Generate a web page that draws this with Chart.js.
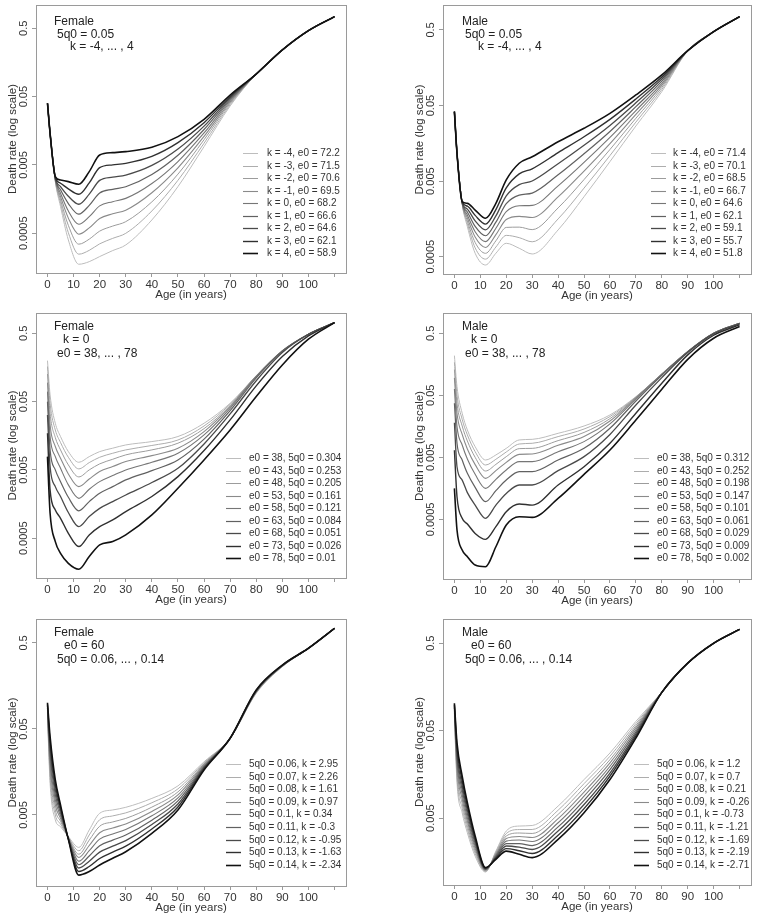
<!DOCTYPE html>
<html>
<head>
<meta charset="utf-8">
<title>Death rate by age, six model life tables</title>
<script src="https://cdn.jsdelivr.net/npm/chart.js@4.4.1/dist/chart.umd.min.js"></script>
<style>
    html, body { margin: 0; padding: 0; background: #fff; }
    #page { position: relative; width: 762px; height: 921px; overflow: hidden; }
    #page canvas { position: absolute; }
</style>
</head>
<body>
<div id="page"></div>
<script>
"use strict";

var ages = [0, 1, 3, 5, 8, 12, 16, 20, 25, 30, 40, 50, 60, 70, 80, 90, 100, 110];
var ageTicks = [0, 10, 20, 30, 40, 50, 60, 70, 80, 90, 100, 110];
var rateTicks = [0.0005, 0.005, 0.05, 0.5];

// Female, 5q0 = 0.05, k = -4 ... 4
var femaleKHeading = ['Female', '5q0 = 0.05', 'k = -4, ... , 4'];
var femaleKLabels = ['k = -4, e0 = 72.2', 'k = -3, e0 = 71.5', 'k = -2, e0 = 70.6', 'k = -1, e0 = 69.5',
    'k = 0, e0 = 68.2', 'k = 1, e0 = 66.6', 'k = 2, e0 = 64.6', 'k = 3, e0 = 62.1', 'k = 4, e0 = 58.9'];
var femaleKRates = [
    [0.04, 0.0145, 0.00285, 0.00123, 0.000399, 0.000176, 0.000192, 0.000228, 0.000279, 0.000337, 0.000783, 0.00241, 0.00927, 0.0365, 0.107, 0.241, 0.462, 0.741],
    [0.04, 0.0145, 0.00291, 0.00138, 0.00051, 0.000247, 0.000281, 0.00035, 0.000421, 0.000499, 0.00106, 0.00298, 0.0104, 0.0382, 0.107, 0.241, 0.462, 0.741],
    [0.04, 0.0145, 0.00297, 0.00154, 0.000652, 0.000346, 0.00041, 0.000537, 0.000637, 0.000739, 0.00144, 0.00367, 0.0117, 0.04, 0.107, 0.241, 0.462, 0.741],
    [0.04, 0.0145, 0.00303, 0.00172, 0.000833, 0.000484, 0.000599, 0.000823, 0.000962, 0.00109, 0.00196, 0.00454, 0.0131, 0.0419, 0.107, 0.241, 0.462, 0.741],
    [0.04, 0.0145, 0.0031, 0.00193, 0.00106, 0.000678, 0.000875, 0.00126, 0.00145, 0.00162, 0.00267, 0.00561, 0.0147, 0.0439, 0.107, 0.241, 0.462, 0.741],
    [0.04, 0.0145, 0.00316, 0.00216, 0.00136, 0.00095, 0.00128, 0.00194, 0.0022, 0.0024, 0.00362, 0.00692, 0.0165, 0.0459, 0.107, 0.241, 0.462, 0.741],
    [0.04, 0.0145, 0.00323, 0.00241, 0.00174, 0.00133, 0.00187, 0.00297, 0.00332, 0.00356, 0.00492, 0.00855, 0.0185, 0.0481, 0.107, 0.241, 0.462, 0.741],
    [0.04, 0.0145, 0.0033, 0.0027, 0.00223, 0.00186, 0.00273, 0.00456, 0.00501, 0.00528, 0.00668, 0.0106, 0.0208, 0.0504, 0.107, 0.241, 0.462, 0.741],
    [0.04, 0.0145, 0.00337, 0.00301, 0.00285, 0.00261, 0.00399, 0.007, 0.00757, 0.00783, 0.00906, 0.013, 0.0233, 0.0528, 0.107, 0.241, 0.462, 0.741]
];

// Male, 5q0 = 0.05, k = -4 ... 4
var maleKHeading = ['Male', '5q0 = 0.05', 'k = -4, ... , 4'];
var maleKLabels = ['k = -4, e0 = 71.4', 'k = -3, e0 = 70.1', 'k = -2, e0 = 68.5', 'k = -1, e0 = 66.7',
    'k = 0, e0 = 64.6', 'k = 1, e0 = 62.1', 'k = 2, e0 = 59.1', 'k = 3, e0 = 55.7', 'k = 4, e0 = 51.8'];
var maleKRates = [
    [0.0415, 0.0117, 0.00249, 0.00125, 0.000555, 0.000388, 0.000555, 0.000752, 0.000646, 0.000543, 0.00113, 0.00311, 0.00906, 0.0268, 0.0764, 0.266, 0.475, 0.75],
    [0.0415, 0.0117, 0.00251, 0.00137, 0.000654, 0.000464, 0.000671, 0.000957, 0.000893, 0.000787, 0.00158, 0.00404, 0.0109, 0.0302, 0.0814, 0.266, 0.475, 0.75],
    [0.0415, 0.0117, 0.00253, 0.00149, 0.000771, 0.000554, 0.000811, 0.00122, 0.00123, 0.00114, 0.00221, 0.00524, 0.0131, 0.0339, 0.0867, 0.266, 0.475, 0.75],
    [0.0415, 0.0117, 0.00256, 0.00163, 0.000909, 0.000662, 0.00098, 0.00155, 0.00171, 0.00165, 0.00309, 0.0068, 0.0157, 0.0382, 0.0923, 0.266, 0.475, 0.75],
    [0.0415, 0.0117, 0.00258, 0.00178, 0.00107, 0.000792, 0.00119, 0.00197, 0.00236, 0.00239, 0.00433, 0.00883, 0.0189, 0.0429, 0.0983, 0.266, 0.475, 0.75],
    [0.0415, 0.0117, 0.0026, 0.00195, 0.00126, 0.000946, 0.00143, 0.00251, 0.00326, 0.00347, 0.00606, 0.0115, 0.0227, 0.0483, 0.105, 0.266, 0.475, 0.75],
    [0.0415, 0.0117, 0.00262, 0.00213, 0.00149, 0.00113, 0.00173, 0.0032, 0.0045, 0.00502, 0.00849, 0.0149, 0.0273, 0.0543, 0.112, 0.266, 0.475, 0.75],
    [0.0415, 0.0117, 0.00265, 0.00233, 0.00176, 0.00135, 0.0021, 0.00407, 0.00623, 0.00728, 0.0119, 0.0193, 0.0328, 0.0611, 0.119, 0.266, 0.475, 0.75],
    [0.0415, 0.0117, 0.00267, 0.00254, 0.00207, 0.00161, 0.00254, 0.00518, 0.00861, 0.0105, 0.0166, 0.025, 0.0394, 0.069, 0.127, 0.266, 0.475, 0.75]
];

// Female, k = 0, e0 = 38 ... 78
var femaleE0Heading = ['Female', 'k = 0', 'e0 = 38, ... , 78'];
var femaleE0Labels = ['e0 = 38, 5q0 = 0.304', 'e0 = 43, 5q0 = 0.253', 'e0 = 48, 5q0 = 0.205', 'e0 = 53, 5q0 = 0.161',
    'e0 = 58, 5q0 = 0.121', 'e0 = 63, 5q0 = 0.084', 'e0 = 68, 5q0 = 0.051', 'e0 = 73, 5q0 = 0.026', 'e0 = 78, 5q0 = 0.01'];
var femaleE0Rates = [
    [0.199, 0.0627, 0.0241, 0.0154, 0.00927, 0.00647, 0.00783, 0.00927, 0.0104, 0.0116, 0.013, 0.0154, 0.0241, 0.0473, 0.119, 0.275, 0.483, 0.716],
    [0.163, 0.0473, 0.0192, 0.0126, 0.00766, 0.00518, 0.0064, 0.00766, 0.00877, 0.00982, 0.0114, 0.0137, 0.022, 0.0457, 0.119, 0.275, 0.483, 0.716],
    [0.127, 0.0338, 0.0149, 0.00982, 0.00592, 0.00395, 0.005, 0.00613, 0.00716, 0.0083, 0.00982, 0.0123, 0.0201, 0.0437, 0.119, 0.275, 0.483, 0.716],
    [0.0948, 0.0228, 0.011, 0.00741, 0.00437, 0.00285, 0.00369, 0.00473, 0.0056, 0.00662, 0.0081, 0.0104, 0.0182, 0.0423, 0.1175, 0.275, 0.483, 0.716],
    [0.07, 0.0154, 0.00783, 0.00528, 0.00302, 0.00192, 0.00261, 0.00337, 0.00413, 0.005, 0.00647, 0.00877, 0.0163, 0.0399, 0.116, 0.275, 0.483, 0.716],
    [0.05, 0.00982, 0.005, 0.00337, 0.00199, 0.00126, 0.00172, 0.00228, 0.00285, 0.00357, 0.00489, 0.007, 0.0141, 0.0369, 0.111, 0.275, 0.483, 0.716],
    [0.0319, 0.0056, 0.00285, 0.00204, 0.00119, 0.00074, 0.00104, 0.00137, 0.00172, 0.00215, 0.00327, 0.00528, 0.012, 0.033, 0.101, 0.261, 0.483, 0.716],
    [0.0172, 0.00255, 0.0013, 0.00098, 0.00059, 0.000378, 0.00056, 0.00074, 0.000927, 0.00123, 0.00204, 0.00399, 0.0096, 0.027, 0.0848, 0.228, 0.457, 0.716],
    [0.00783, 0.00116, 0.000447, 0.000301, 0.000215, 0.000176, 0.00027, 0.000399, 0.000447, 0.00056, 0.0011, 0.0027, 0.007, 0.0192, 0.0592, 0.172, 0.409, 0.716]
];

// Male, k = 0, e0 = 38 ... 78
var maleE0Heading = ['Male', 'k = 0', 'e0 = 38, ... , 78'];
var maleE0Labels = ['e0 = 38, 5q0 = 0.312', 'e0 = 43, 5q0 = 0.252', 'e0 = 48, 5q0 = 0.198', 'e0 = 53, 5q0 = 0.147',
    'e0 = 58, 5q0 = 0.101', 'e0 = 63, 5q0 = 0.061', 'e0 = 68, 5q0 = 0.029', 'e0 = 73, 5q0 = 0.009', 'e0 = 78, 5q0 = 0.002'];
var maleE0Rates = [
    [0.218, 0.069, 0.0257, 0.0138, 0.00743, 0.00453, 0.00546, 0.00698, 0.00953, 0.00975, 0.0122, 0.016, 0.0241, 0.0475, 0.11, 0.253, 0.5, 0.724],
    [0.17, 0.0506, 0.0205, 0.0115, 0.00617, 0.00376, 0.00465, 0.0061, 0.0082, 0.00842, 0.0108, 0.0143, 0.0227, 0.0469, 0.11, 0.253, 0.5, 0.724],
    [0.13, 0.0372, 0.016, 0.00917, 0.005, 0.00301, 0.00385, 0.00513, 0.0069, 0.00698, 0.0093, 0.0126, 0.021, 0.0464, 0.11, 0.253, 0.5, 0.724],
    [0.0953, 0.0257, 0.0117, 0.00681, 0.00381, 0.00229, 0.00305, 0.00415, 0.00558, 0.00566, 0.00782, 0.0108, 0.0193, 0.0453, 0.11, 0.253, 0.5, 0.724],
    [0.0632, 0.0156, 0.0079, 0.0047, 0.00266, 0.00158, 0.00221, 0.00313, 0.00426, 0.00426, 0.00617, 0.00896, 0.0173, 0.0437, 0.109, 0.253, 0.5, 0.724],
    [0.0372, 0.00842, 0.00453, 0.00276, 0.00164, 0.000964, 0.00145, 0.00215, 0.00294, 0.00294, 0.00453, 0.00698, 0.0147, 0.0405, 0.105, 0.253, 0.5, 0.724],
    [0.0181, 0.00353, 0.00215, 0.00135, 0.00085, 0.00052, 0.00085, 0.00131, 0.00179, 0.00179, 0.00305, 0.00513, 0.0117, 0.0349, 0.0964, 0.244, 0.488, 0.707],
    [0.00649, 0.00116, 0.00052, 0.000421, 0.000297, 0.000238, 0.000381, 0.000665, 0.000883, 0.00085, 0.00179, 0.00353, 0.00842, 0.0257, 0.0781, 0.224, 0.464, 0.681],
    [0.00158, 0.000337, 0.00016, 0.000125, 0.0000917, 0.0000863, 0.000181, 0.000405, 0.000552, 0.000538, 0.00109, 0.00266, 0.00656, 0.02, 0.0625, 0.19, 0.415, 0.641]
];

// Female, e0 = 60, 5q0 = 0.06 ... 0.14
var female5q0Heading = ['Female', 'e0 = 60', '5q0 = 0.06, ... , 0.14'];
var female5q0Labels = ['5q0 = 0.06, k = 2.95', '5q0 = 0.07, k = 2.26', '5q0 = 0.08, k = 1.61', '5q0 = 0.09, k = 0.97',
    '5q0 = 0.1, k = 0.34', '5q0 = 0.11, k = -0.3', '5q0 = 0.12, k = -0.95', '5q0 = 0.13, k = -1.63', '5q0 = 0.14, k = -2.34'];
var female5q0Rates = [
    [0.0695, 0.0117, 0.00438, 0.00366, 0.0028, 0.0021, 0.00335, 0.00523, 0.00572, 0.00614, 0.0078, 0.0109, 0.0208, 0.039, 0.13, 0.265, 0.434, 0.74],
    [0.0728, 0.0137, 0.005, 0.00393, 0.00277, 0.00192, 0.00293, 0.0044, 0.00488, 0.00529, 0.00694, 0.01006, 0.0203, 0.039, 0.1315, 0.2665, 0.434, 0.74],
    [0.0763, 0.016, 0.00572, 0.00423, 0.00275, 0.00175, 0.00255, 0.0037, 0.00415, 0.00456, 0.00617, 0.00928, 0.0197, 0.039, 0.133, 0.268, 0.434, 0.74],
    [0.08, 0.0187, 0.00654, 0.00455, 0.00272, 0.0016, 0.00221, 0.00311, 0.00353, 0.00393, 0.00549, 0.00856, 0.0192, 0.039, 0.1345, 0.2695, 0.434, 0.74],
    [0.0838, 0.0218, 0.00748, 0.00489, 0.0027, 0.00145, 0.00192, 0.00262, 0.003, 0.00339, 0.00489, 0.0079, 0.0186, 0.039, 0.136, 0.271, 0.434, 0.74],
    [0.0878, 0.0255, 0.00855, 0.00525, 0.00267, 0.00132, 0.00167, 0.0022, 0.00255, 0.00292, 0.00435, 0.00729, 0.0181, 0.039, 0.1375, 0.2725, 0.434, 0.74],
    [0.092, 0.0298, 0.00977, 0.00565, 0.00265, 0.00121, 0.00145, 0.00185, 0.00217, 0.00252, 0.00387, 0.00672, 0.0177, 0.039, 0.139, 0.274, 0.434, 0.74],
    [0.0964, 0.0349, 0.0112, 0.00607, 0.00262, 0.0011, 0.00126, 0.00156, 0.00185, 0.00217, 0.00344, 0.0062, 0.0172, 0.039, 0.1405, 0.2755, 0.434, 0.74],
    [0.101, 0.0407, 0.0128, 0.00653, 0.0026, 0.001, 0.0011, 0.00131, 0.00157, 0.00187, 0.00306, 0.00572, 0.0167, 0.039, 0.142, 0.277, 0.434, 0.74]
];

// Male, e0 = 60, 5q0 = 0.06 ... 0.14
var male5q0Heading = ['Male', 'e0 = 60', '5q0 = 0.06, ... , 0.14'];
var male5q0Labels = ['5q0 = 0.06, k = 1.2', '5q0 = 0.07, k = 0.7', '5q0 = 0.08, k = 0.21', '5q0 = 0.09, k = -0.26',
    '5q0 = 0.1, k = -0.73', '5q0 = 0.11, k = -1.21', '5q0 = 0.12, k = -1.69', '5q0 = 0.13, k = -2.19', '5q0 = 0.14, k = -2.71'];
var male5q0Rates = [
    [0.0729, 0.0127, 0.00575, 0.0034, 0.00184, 0.00121, 0.0021, 0.00356, 0.00406, 0.00412, 0.00687, 0.0138, 0.0278, 0.0639, 0.137, 0.296, 0.5, 0.72],
    [0.0762, 0.0144, 0.00649, 0.00375, 0.00197, 0.00123, 0.00204, 0.00333, 0.0037, 0.00371, 0.00616, 0.0124, 0.0255, 0.0603, 0.137, 0.296, 0.5, 0.72],
    [0.0796, 0.0164, 0.00732, 0.00414, 0.0021, 0.00125, 0.00199, 0.00312, 0.00338, 0.00334, 0.00552, 0.0111, 0.0233, 0.0571, 0.137, 0.296, 0.5, 0.72],
    [0.0831, 0.0187, 0.00825, 0.00458, 0.00224, 0.00127, 0.00193, 0.00292, 0.00308, 0.003, 0.00494, 0.00995, 0.0214, 0.0541, 0.137, 0.296, 0.5, 0.72],
    [0.0868, 0.0214, 0.00931, 0.00505, 0.00239, 0.00129, 0.00188, 0.00273, 0.00281, 0.0027, 0.00443, 0.00892, 0.0196, 0.0512, 0.137, 0.296, 0.5, 0.72],
    [0.0907, 0.0244, 0.0105, 0.00558, 0.00256, 0.0013, 0.00183, 0.00256, 0.00256, 0.00243, 0.00397, 0.00799, 0.0179, 0.0485, 0.137, 0.296, 0.5, 0.72],
    [0.0948, 0.0278, 0.0118, 0.00616, 0.00273, 0.00132, 0.00178, 0.0024, 0.00233, 0.00219, 0.00356, 0.00716, 0.0164, 0.0459, 0.137, 0.296, 0.5, 0.72],
    [0.099, 0.0317, 0.0134, 0.0068, 0.00292, 0.00134, 0.00174, 0.00224, 0.00212, 0.00197, 0.00319, 0.00642, 0.0151, 0.0435, 0.137, 0.296, 0.5, 0.72],
    [0.103, 0.0362, 0.0151, 0.0075, 0.00312, 0.00136, 0.00169, 0.0021, 0.00193, 0.00177, 0.00286, 0.00575, 0.0138, 0.0412, 0.137, 0.296, 0.5, 0.72]
];

// styles
var FONT = '"Liberation Sans", Arial, Helvetica, sans-serif';
var NARROW = '"Liberation Sans Narrow", "Liberation Sans", Arial, sans-serif';
var shades = ['#bdbdbd', '#adadad', '#9c9c9c', '#8a8a8a', '#767676', '#616161', '#4a4a4a', '#303030', '#111111'];
var widths = [1, 1, 1, 1.1, 1.1, 1.2, 1.3, 1.4, 1.6];
var axisGrey = '#9a9a9a';
var textColor = '#333333';

Chart.defaults.font.family = FONT;

// one entry per panel: where the box sits on the page and the y range of the log axis
var panels = [
    {
        heading: femaleKHeading, labels: femaleKLabels, rates: femaleKRates,
        box: { left: 36, right: 346, top: 5, bottom: 273 }, yMin: 0.000131, yMax: 1.097,
        headPos: [[18, 17], [21, 30], [34, 42]],
        legend: { x1: 207, x2: 222, tx: 231, y: 148, step: 12.5 }
    },
    {
        heading: maleKHeading, labels: maleKLabels, rates: maleKRates,
        box: { left: 443, right: 751, top: 5, bottom: 274 }, yMin: 0.000295, yMax: 1.07,
        headPos: [[19, 17], [22, 30], [35, 42]],
        legend: { x1: 208, x2: 223, tx: 230, y: 148, step: 12.5 }
    },
    {
        heading: femaleE0Heading, labels: femaleE0Labels, rates: femaleE0Rates,
        box: { left: 36, right: 346, top: 313, bottom: 578 }, yMin: 0.000131, yMax: 0.99,
        headPos: [[18, 14], [27, 27], [21, 41]],
        legend: { x1: 190, x2: 205, tx: 213, y: 145, step: 12.5 }
    },
    {
        heading: maleE0Heading, labels: maleE0Labels, rates: maleE0Rates,
        box: { left: 443, right: 751, top: 313, bottom: 579 }, yMin: 0.0000547, yMax: 1.06,
        headPos: [[19, 14], [28, 27], [22, 41]],
        legend: { x1: 191, x2: 206, tx: 214, y: 145, step: 12.5 }
    },
    {
        heading: female5q0Heading, labels: female5q0Labels, rates: female5q0Rates,
        box: { left: 36, right: 346, top: 619, bottom: 886 }, yMin: 0.000747, yMax: 0.95,
        headPos: [[18, 14], [28, 27], [21, 41]],
        legend: { x1: 190, x2: 205, tx: 213, y: 145, step: 12.6 }
    },
    {
        heading: male5q0Heading, labels: male5q0Labels, rates: male5q0Rates,
        box: { left: 443, right: 751, top: 619, bottom: 885 }, yMin: 0.00086, yMax: 0.946,
        headPos: [[19, 14], [28, 27], [22, 41]],
        legend: { x1: 191, x2: 206, tx: 214, y: 145, step: 12.6 }
    }
];

// box, rotated y tick labels, legend and the three heading lines
function decor(panel) {
    return {
        id: 'decor',
        afterDatasetsDraw: function (chart) {
            var ctx = chart.ctx;
            var area = chart.chartArea;
            var yScale = chart.scales.y;
            ctx.save();

            ctx.strokeStyle = axisGrey;
            ctx.lineWidth = 1;
            ctx.strokeRect(area.left + 0.5, area.top + 0.5, area.right - area.left, area.bottom - area.top);

            ctx.fillStyle = textColor;
            ctx.font = '11px ' + FONT;
            ctx.textAlign = 'center';
            ctx.textBaseline = 'middle';
            yScale.ticks.forEach(function (t) {
                var py = yScale.getPixelForValue(t.value);
                ctx.save();
                ctx.translate(area.left - 12, py);
                ctx.rotate(-Math.PI / 2);
                ctx.fillText(String(t.value), 0, 0);
                ctx.restore();
            });

            // legend
            var lg = panel.legend;
            ctx.font = '10px ' + NARROW;
            ctx.textAlign = 'left';
            chart.data.datasets.forEach(function (ds, i) {
                var y = Math.round(area.top + lg.y + i * lg.step) + 0.5;
                ctx.strokeStyle = ds.borderColor;
                ctx.lineWidth = ds.borderWidth;
                ctx.beginPath();
                ctx.moveTo(area.left + lg.x1, y);
                ctx.lineTo(area.left + lg.x2, y);
                ctx.stroke();
                ctx.fillText(ds.label, area.left + lg.tx, y);
            });

            // heading
            ctx.fillStyle = '#222222';
            ctx.font = '12px ' + FONT;
            panel.heading.forEach(function (line, i) {
                ctx.fillText(line, area.left + panel.headPos[i][0], area.top + panel.headPos[i][1]);
            });

            ctx.restore();
        }
    };
}

var page = document.getElementById('page');

panels.forEach(function (p) {
    var cv = document.createElement('canvas');
    var w = p.box.right - p.box.left + 42;
    var h = p.box.bottom - p.box.top + 38;
    cv.width = w;
    cv.height = h;
    cv.style.width = w + 'px';
    cv.style.height = h + 'px';
    cv.style.left = (p.box.left - 36) + 'px';
    cv.style.top = (p.box.top - 4) + 'px';
    page.appendChild(cv);

    var datasets = p.rates.map(function (row, i) {
        return {
            label: p.labels[i],
            data: row.map(function (v, j) { return { x: ages[j], y: v }; }),
            borderColor: shades[i],
            borderWidth: widths[i],
            pointRadius: 0,
            fill: false,
            cubicInterpolationMode: 'monotone',
            order: 8 - i
        };
    });

    new Chart(cv, {
        type: 'line',
        data: { datasets: datasets },
        options: {
            responsive: false,
            animation: false,
            devicePixelRatio: 1,
            events: [],
            layout: { padding: { top: 4, right: 6, bottom: 0, left: 0 } },
            plugins: { legend: { display: false }, tooltip: { enabled: false } },
            scales: {
                x: {
                    type: 'linear',
                    min: -4.4,
                    max: 114.4,
                    afterBuildTicks: function (s) {
                        s.ticks = ageTicks.map(function (v) { return { value: v }; });
                    },
                    afterFit: function (s) { s.height = 34; },
                    grid: { drawOnChartArea: false, drawTicks: true, tickLength: 4, color: axisGrey },
                    border: { display: false },
                    ticks: {
                        autoSkip: false, maxRotation: 0, minRotation: 0, padding: 1,
                        color: textColor, font: { size: 11.5 },
                        callback: function (v) { return v === 110 ? '' : String(v); }
                    },
                    title: {
                        display: true, text: 'Age (in years)', color: textColor,
                        font: { size: 11.5 }, padding: { top: 0, bottom: 5 }
                    }
                },
                y: {
                    type: 'logarithmic',
                    min: p.yMin,
                    max: p.yMax,
                    afterBuildTicks: function (s) {
                        s.ticks = rateTicks.filter(function (v) {
                            return v >= p.yMin && v <= p.yMax;
                        }).map(function (v) { return { value: v }; });
                    },
                    afterFit: function (s) { s.width = 36; },
                    grid: { drawOnChartArea: false, drawTicks: true, tickLength: 4, color: axisGrey },
                    border: { display: false },
                    ticks: { display: false },
                    title: {
                        display: true, text: 'Death rate (log scale)', color: textColor,
                        font: { size: 11.5 }, padding: { top: 6, bottom: 0 }
                    }
                }
            }
        },
        plugins: [decor(p)]
    });
});
</script>
</body>
</html>
